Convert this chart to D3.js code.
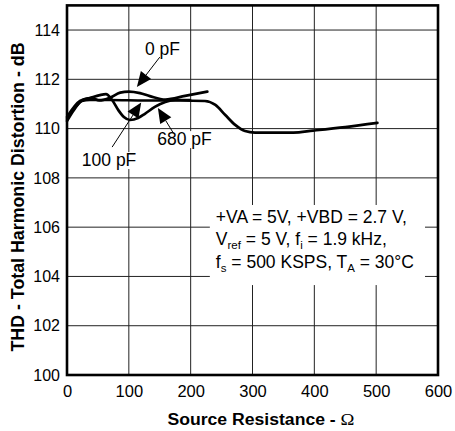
<!DOCTYPE html>
<html>
<head>
<meta charset="utf-8">
<script src="https://cdn.jsdelivr.net/npm/d3@7"></script>
<style>
  body { margin: 0; background: #fff; }
  svg { font-family: "Liberation Sans", Arial, sans-serif; }
</style>
</head>
<body>
<div id="chart"></div>
<script>
// source resistance (ohm) vs THD (dB)
const r0pF   = [0, 18, 29, 40, 52, 70, 86, 100, 118, 134, 159, 191, 227];
const thd0pF = [110.39, 111.0, 111.2, 111.24, 111.14, 111.26, 111.46, 111.5, 111.44, 111.32, 111.18, 111.33, 111.5];

const r100pF   = [0, 11, 24, 37, 70, 126, 183, 223, 240, 256, 272, 288, 304, 366, 398, 450, 502];
const thd100pF = [110.31, 110.75, 111.12, 111.16, 111.16, 111.14, 111.14, 111.12, 110.96, 110.55, 110.15, 109.9, 109.84, 109.84, 109.92, 110.06, 110.23];

const r680pF   = [0, 21, 37, 53, 63, 73, 83, 92, 102, 115, 126, 142, 159, 175, 199];
const thd680pF = [110.47, 111.12, 111.24, 111.36, 111.4, 111.16, 110.75, 110.47, 110.35, 110.43, 110.6, 110.88, 111.08, 111.16, 111.16];

const xTicks = [0, 100, 200, 300, 400, 500, 600];
const yTicks = [100, 102, 104, 106, 108, 110, 112, 114];

// label text, label anchor (r, dB), arrow tail and arrow tip (r, dB)
const labels    = ["0 pF", "100 pF", "680 pF"];
const labelPos  = [[126, 113.0], [24, 108.48], [146, 109.33]];
const arrowFrom = [[150, 112.9], [73, 109.25], [172, 109.82]];
const arrowTo   = [[113, 111.69], [120, 111.06], [147, 110.84]];

const W = 455, H = 431;
const margin = {top: 5.4, right: 17, bottom: 56, left: 67};

const svg = d3.select("#chart").append("svg")
    .attr("width", W)
    .attr("height", H);

const x = d3.scaleLinear().domain([0, 600]).range([margin.left, W - margin.right]);
const y = d3.scaleLinear().domain([100, 115]).range([H - margin.bottom, margin.top]);

// grid
svg.append("g").selectAll("line.vgrid")
    .data(xTicks.slice(1, -1))
    .enter().append("line")
    .attr("x1", d => x(d)).attr("x2", d => x(d))
    .attr("y1", y(100)).attr("y2", y(115))
    .attr("stroke", "#222").attr("stroke-width", 1);

svg.append("g").selectAll("line.hgrid")
    .data(yTicks.slice(1))
    .enter().append("line")
    .attr("x1", x(0)).attr("x2", x(600))
    .attr("y1", d => y(d)).attr("y2", d => y(d))
    .attr("stroke", "#222").attr("stroke-width", 1);

// conditions box (white, covers grid)
const box = svg.append("g");
box.append("rect")
    .attr("x", x(231)).attr("y", y(106.9))
    .attr("width", x(579) - x(231)).attr("height", y(103.65) - y(106.9))
    .attr("fill", "#fff");

const bx = x(231) + 6;
const fs = 17.5, sub = 11.5, sh = 4;
const t1 = box.append("text").attr("x", bx).attr("y", 223).attr("font-size", fs);
t1.text("+VA = 5V, +VBD = 2.7 V,");

const t2 = box.append("text").attr("x", bx).attr("y", 245).attr("font-size", fs);
t2.append("tspan").text("V");
t2.append("tspan").attr("dy", sh).attr("font-size", sub).text("ref");
t2.append("tspan").attr("dy", -sh).text(" = 5 V, f");
t2.append("tspan").attr("dy", sh).attr("font-size", sub).text("i");
t2.append("tspan").attr("dy", -sh).text(" = 1.9 kHz,");

const t3 = box.append("text").attr("x", bx).attr("y", 268).attr("font-size", fs);
t3.append("tspan").text("f");
t3.append("tspan").attr("dy", sh).attr("font-size", sub).text("s");
t3.append("tspan").attr("dy", -sh).text(" = 500 KSPS, T");
t3.append("tspan").attr("dy", sh).attr("font-size", sub).text("A");
t3.append("tspan").attr("dy", -sh).text(" = 30°C");

// curves
const line = d3.line()
    .x(d => x(d[0]))
    .y(d => y(d[1]))
    .curve(d3.curveMonotoneX);

const series = [
    d3.zip(r680pF, thd680pF),
    d3.zip(r0pF, thd0pF),
    d3.zip(r100pF, thd100pF)
];

svg.append("g").selectAll("path")
    .data(series)
    .enter().append("path")
    .attr("d", line)
    .attr("fill", "none")
    .attr("stroke", "#000")
    .attr("stroke-width", 2.7)
    .attr("stroke-linejoin", "round")
    .attr("stroke-linecap", "round");

// labels with arrows
const ann = svg.append("g");
labels.forEach((lab, i) => {
    const t = ann.append("text")
        .attr("x", x(labelPos[i][0]))
        .attr("y", y(labelPos[i][1]))
        .attr("font-size", 17.5)
        .text(lab);
    const bb = t.node().getBBox();
    ann.insert("rect", "text")
        .attr("x", bb.x - 1).attr("y", bb.y + 2)
        .attr("width", bb.width + 2).attr("height", bb.height - 3)
        .attr("fill", "#fff");

    const x0 = x(arrowFrom[i][0]), y0 = y(arrowFrom[i][1]);
    const x1 = x(arrowTo[i][0]), y1 = y(arrowTo[i][1]);
    const ang = Math.atan2(y1 - y0, x1 - x0);
    const len = 15, half = 6.5;
    const bxx = x1 - len * Math.cos(ang), byy = y1 - len * Math.sin(ang);
    ann.append("line")
        .attr("x1", x0).attr("y1", y0)
        .attr("x2", bxx).attr("y2", byy)
        .attr("stroke", "#000").attr("stroke-width", 1);
    const px = -Math.sin(ang) * half, py = Math.cos(ang) * half;
    ann.append("path")
        .attr("d", `M${x1},${y1}L${bxx + px},${byy + py}L${bxx - px},${byy - py}Z`)
        .attr("fill", "#000");
});

// frame
svg.append("rect")
    .attr("x", x(0)).attr("y", y(115))
    .attr("width", x(600) - x(0)).attr("height", y(100) - y(115))
    .attr("fill", "none")
    .attr("stroke", "#000")
    .attr("stroke-width", 2.6);

// axes (labels only)
const xAxis = d3.axisBottom(x).tickValues(xTicks).tickSize(0).tickPadding(10);
const gx = svg.append("g")
    .attr("transform", "translate(0," + y(100) + ")")
    .call(xAxis);
gx.select(".domain").remove();
gx.selectAll("text").attr("font-size", 16.5).attr("font-family", "Liberation Sans, Arial, sans-serif").attr("fill", "#000");

const yAxis = d3.axisLeft(y).tickValues(yTicks).tickSize(0).tickPadding(7);
const gy = svg.append("g")
    .attr("transform", "translate(" + x(0) + ",0)")
    .call(yAxis);
gy.select(".domain").remove();
gy.selectAll("text").attr("font-size", 16).attr("font-family", "Liberation Sans, Arial, sans-serif").attr("fill", "#000");

// axis titles
const xt = svg.append("text")
    .attr("x", 261).attr("y", 425)
    .attr("text-anchor", "middle")
    .attr("font-size", 16)
    .attr("font-weight", "bold")
    .attr("textLength", 187)
    .attr("lengthAdjust", "spacingAndGlyphs");
xt.append("tspan").text("Source Resistance - ");
xt.append("tspan").attr("font-family", "Liberation Serif, Times New Roman, serif").attr("font-weight", "normal").attr("font-size", 17).text("Ω");

svg.append("text")
    .attr("transform", "translate(24,197) rotate(-90)")
    .attr("text-anchor", "middle")
    .attr("font-size", 17.5)
    .attr("font-weight", "bold")
    .attr("textLength", 309)
    .attr("lengthAdjust", "spacingAndGlyphs")
    .text("THD - Total Harmonic Distortion - dB");
</script>
</body>
</html>
